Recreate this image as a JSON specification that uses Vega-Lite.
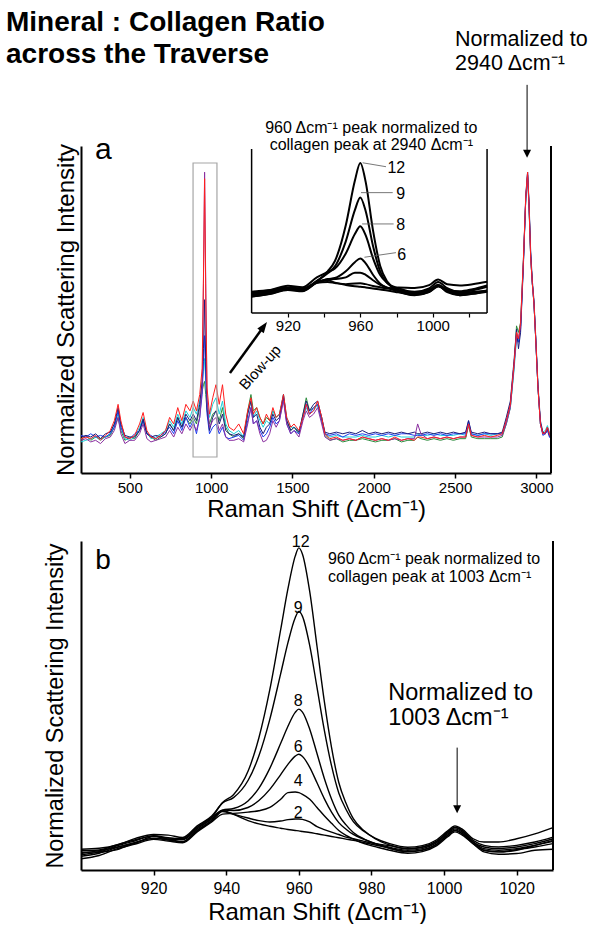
{
  "$schema": "https://vega.github.io/schema/vega-lite/v6.json",
  "padding": {"left": 6, "top": 9, "right": 0, "bottom": 0},
  "title": {"text": ["Mineral : Collagen Ratio", "across the Traverse"], "anchor": "start", "fontSize": 28, "fontWeight": "bold", "font": "Liberation Sans", "lineHeight": 32, "dx": -37, "dy": 40, "offset": 0, "color": "#000"},
  "config": {
    "font": "Liberation Sans",
    "view": {"stroke": null},
    "axis": {"grid": false, "labelColor": "#000", "titleColor": "#000", "domainColor": "#000", "tickColor": "#000", "titleFontWeight": "normal", "labelFont": "Liberation Sans", "titleFont": "Liberation Sans"},
    "text": {"color": "#000", "font": "Liberation Sans"}
  },
  "datasets": {
    "spec": [
      {"x":200,"r":10.5,"p":10,"n":11,"b":11.5,"c":9.5,"g":10},
      {"x":230,"r":11,"p":10.5,"n":11.5,"b":11,"c":10,"g":11.5},
      {"x":260,"r":10.5,"p":9.5,"n":11,"b":12,"c":10.5,"g":10},
      {"x":290,"r":11.5,"p":10,"n":12,"b":11,"c":11,"g":11},
      {"x":320,"r":10,"p":9,"n":10.5,"b":11.5,"c":10,"g":10.5},
      {"x":350,"r":11.5,"p":10.5,"n":12,"b":11,"c":11,"g":11},
      {"x":380,"r":13,"p":11,"n":12.5,"b":12,"c":12,"g":11.5},
      {"x":405,"r":16,"p":13,"n":15,"b":14,"c":15,"g":14},
      {"x":428,"r":21,"p":17,"n":20,"b":19,"c":18,"g":17},
      {"x":445,"r":16,"p":12,"n":15,"b":14,"c":14,"g":13},
      {"x":470,"r":11,"p":9,"n":11.5,"b":11,"c":10.5,"g":10},
      {"x":500,"r":10.5,"p":10,"n":11,"b":10.5,"c":10,"g":11},
      {"x":530,"r":11.5,"p":10,"n":11,"b":12,"c":11,"g":10.5},
      {"x":560,"r":15,"p":12,"n":13,"b":13,"c":14,"g":13},
      {"x":582,"r":18.5,"p":15,"n":16.5,"b":16,"c":17,"g":16},
      {"x":605,"r":13,"p":10.5,"n":12,"b":12,"c":12.5,"g":12},
      {"x":630,"r":11,"p":9.5,"n":11,"b":11.5,"c":10.5,"g":11},
      {"x":660,"r":10.5,"p":10,"n":11.5,"b":10.5,"c":11,"g":10},
      {"x":690,"r":11.5,"p":10.5,"n":11,"b":11.5,"c":12,"g":11},
      {"x":720,"r":13,"p":11,"n":12,"b":12.5,"c":13,"g":12},
      {"x":745,"r":17,"p":13,"n":15,"b":14,"c":16,"g":15},
      {"x":770,"r":15,"p":11,"n":13,"b":12,"c":14,"g":13},
      {"x":795,"r":20,"p":14,"n":17,"b":16,"c":18,"g":17},
      {"x":820,"r":16,"p":12,"n":14,"b":13,"c":15,"g":14},
      {"x":845,"r":21,"p":15,"n":18,"b":17,"c":19,"g":17},
      {"x":870,"r":19,"p":13,"n":16,"b":14,"c":17,"g":15},
      {"x":890,"r":22,"p":15,"n":18,"b":16,"c":20,"g":17},
      {"x":910,"r":19,"p":13,"n":16,"b":12,"c":18,"g":15},
      {"x":930,"r":24,"p":17,"n":21,"b":17,"c":22,"g":20},
      {"x":945,"r":32,"p":26,"n":28,"b":24,"c":28,"g":25},
      {"x":953,"r":60,"p":58,"n":38,"b":34,"c":31,"g":27},
      {"x":960,"r":90,"p":92,"n":53,"b":42,"c":35,"g":28},
      {"x":967,"r":55,"p":58,"n":34,"b":30,"c":28,"g":24},
      {"x":975,"r":26,"p":22,"n":20,"b":18,"c":22,"g":19},
      {"x":990,"r":18,"p":14,"n":13,"b":12,"c":17,"g":15},
      {"x":1010,"r":23,"p":16,"n":17,"b":14,"c":21,"g":18},
      {"x":1030,"r":27,"p":17,"n":19,"b":15,"c":23,"g":19},
      {"x":1050,"r":21,"p":13,"n":15,"b":12,"c":18,"g":16},
      {"x":1070,"r":27,"p":15,"n":18,"b":14,"c":22,"g":20},
      {"x":1090,"r":18,"p":11,"n":13,"b":11,"c":15,"g":14},
      {"x":1110,"r":14,"p":10,"n":12,"b":10.5,"c":13,"g":12},
      {"x":1140,"r":13,"p":10,"n":11.5,"b":11,"c":12,"g":11},
      {"x":1170,"r":15,"p":10.5,"n":12,"b":11.5,"c":13,"g":12},
      {"x":1200,"r":12,"p":9.5,"n":11,"b":10,"c":11,"g":10.5},
      {"x":1225,"r":19,"p":15,"n":18,"b":16,"c":18,"g":19},
      {"x":1245,"r":23,"p":20,"n":22,"b":20,"c":22,"g":24},
      {"x":1260,"r":18,"p":15,"n":17,"b":15,"c":17,"g":19},
      {"x":1280,"r":20,"p":16,"n":18,"b":16,"c":19,"g":20},
      {"x":1300,"r":17,"p":12,"n":14,"b":13,"c":16,"g":17},
      {"x":1320,"r":15,"p":9.5,"n":12,"b":11,"c":14,"g":15},
      {"x":1340,"r":18,"p":10,"n":14,"b":12,"c":16,"g":17},
      {"x":1360,"r":16,"p":12,"n":15,"b":14,"c":15,"g":16},
      {"x":1380,"r":20,"p":16,"n":18,"b":17,"c":19,"g":19},
      {"x":1400,"r":17,"p":14,"n":16,"b":15,"c":17,"g":17},
      {"x":1420,"r":18,"p":16,"n":17,"b":16,"c":18,"g":18},
      {"x":1445,"r":24,"p":22,"n":24,"b":23,"c":24,"g":23},
      {"x":1465,"r":17,"p":15,"n":16,"b":15,"c":17,"g":16},
      {"x":1490,"r":14,"p":12,"n":13,"b":12,"c":14,"g":13},
      {"x":1510,"r":15,"p":13,"n":14,"b":13,"c":14,"g":14},
      {"x":1540,"r":13,"p":11,"n":12.5,"b":12,"c":13,"g":12},
      {"x":1565,"r":17,"p":16,"n":18,"b":17,"c":17,"g":18},
      {"x":1585,"r":21,"p":19,"n":22,"b":21,"c":20,"g":23},
      {"x":1605,"r":18,"p":17,"n":19,"b":18,"c":18,"g":19},
      {"x":1630,"r":19,"p":18,"n":21,"b":20,"c":19,"g":20},
      {"x":1655,"r":22,"p":20,"n":22,"b":21,"c":21,"g":21},
      {"x":1680,"r":17,"p":15,"n":17,"b":16,"c":17,"g":16},
      {"x":1700,"r":12,"p":11,"n":12.5,"b":12,"c":12,"g":11.5},
      {"x":1730,"r":10.5,"p":10,"n":12,"b":11.5,"c":11,"g":10},
      {"x":1770,"r":11,"p":10.5,"n":12.5,"b":12,"c":11.5,"g":10.5},
      {"x":1810,"r":10,"p":10,"n":12,"b":11,"c":11,"g":9.5},
      {"x":1850,"r":10.5,"p":10.5,"n":12.5,"b":12,"c":11,"g":10},
      {"x":1890,"r":10,"p":10,"n":12,"b":11.5,"c":11,"g":10},
      {"x":1930,"r":11,"p":11,"n":13,"b":12,"c":11.5,"g":10.5},
      {"x":1970,"r":10.5,"p":10.5,"n":12,"b":11.5,"c":11,"g":10},
      {"x":2010,"r":10,"p":10,"n":12.5,"b":12,"c":11,"g":9.5},
      {"x":2050,"r":10.5,"p":10.5,"n":12,"b":11.5,"c":11.5,"g":10},
      {"x":2090,"r":10,"p":10,"n":12.5,"b":12,"c":11,"g":10},
      {"x":2130,"r":11,"p":10.5,"n":12,"b":11.5,"c":11.5,"g":10.5},
      {"x":2170,"r":10,"p":10,"n":12.5,"b":12,"c":11,"g":9.5},
      {"x":2210,"r":10.5,"p":10.5,"n":12,"b":12,"c":11,"g":10},
      {"x":2250,"r":10,"p":10.5,"n":12.5,"b":11.5,"c":11,"g":10},
      {"x":2270,"r":11,"p":15,"n":12,"b":11.5,"c":12,"g":11},
      {"x":2290,"r":11,"p":12,"n":12,"b":11.5,"c":11.5,"g":10.5},
      {"x":2330,"r":10.5,"p":10.5,"n":12.5,"b":12,"c":11.5,"g":10},
      {"x":2370,"r":11,"p":11,"n":12,"b":11.5,"c":12,"g":10.5},
      {"x":2410,"r":10.5,"p":10.5,"n":12.5,"b":12,"c":11.5,"g":10},
      {"x":2450,"r":11,"p":11,"n":12,"b":11.5,"c":11.5,"g":10.5},
      {"x":2490,"r":10.5,"p":10.5,"n":12.5,"b":12,"c":11.5,"g":10},
      {"x":2530,"r":11,"p":11,"n":12,"b":12,"c":12,"g":10.5},
      {"x":2565,"r":11,"p":11,"n":12.5,"b":12,"c":11.5,"g":10.5},
      {"x":2583,"r":15,"p":15,"n":16,"b":16,"c":15,"g":14.5},
      {"x":2600,"r":11.5,"p":11.5,"n":12.5,"b":12,"c":12,"g":11},
      {"x":2640,"r":11,"p":11,"n":12,"b":11.5,"c":11.5,"g":10.5},
      {"x":2680,"r":11.5,"p":11,"n":12.5,"b":12,"c":12,"g":10.5},
      {"x":2720,"r":11,"p":11,"n":12,"b":12,"c":11.5,"g":10.5},
      {"x":2760,"r":11.5,"p":11,"n":12,"b":12,"c":12,"g":10.5},
      {"x":2790,"r":12,"p":11.5,"n":12.5,"b":12,"c":12,"g":11},
      {"x":2815,"r":16,"p":15,"n":17,"b":16,"c":15,"g":15},
      {"x":2840,"r":21,"p":20,"n":22,"b":21,"c":20,"g":20},
      {"x":2862,"r":33,"p":32,"n":34,"b":33,"c":31,"g":32},
      {"x":2878,"r":43,"p":42,"n":44,"b":42,"c":41,"g":45},
      {"x":2890,"r":41,"p":41,"n":38,"b":40,"c":40,"g":43},
      {"x":2903,"r":46,"p":45,"n":43,"b":44,"c":45,"g":46},
      {"x":2920,"r":65,"p":64,"n":63,"b":64,"c":64,"g":65},
      {"x":2935,"r":85,"p":84,"n":84,"b":85,"c":84,"g":84},
      {"x":2946,"r":92,"p":91,"n":92,"b":92,"c":91,"g":91},
      {"x":2955,"r":82,"p":81,"n":83,"b":82,"c":82,"g":81},
      {"x":2965,"r":66,"p":66,"n":68,"b":67,"c":66,"g":66},
      {"x":2975,"r":58,"p":58,"n":59,"b":58,"c":58,"g":58},
      {"x":2985,"r":52,"p":52,"n":53,"b":52,"c":52,"g":52},
      {"x":2995,"r":42,"p":42,"n":43,"b":42,"c":42,"g":42},
      {"x":3010,"r":26,"p":26,"n":27,"b":26,"c":26,"g":26},
      {"x":3025,"r":15,"p":15,"n":16,"b":15,"c":15,"g":15},
      {"x":3040,"r":12,"p":12,"n":12.5,"b":11.5,"c":12.5,"g":12},
      {"x":3055,"r":12.5,"p":12,"n":12,"b":12,"c":13,"g":12},
      {"x":3068,"r":14,"p":14,"n":13.5,"b":13,"c":14.5,"g":14},
      {"x":3080,"r":12,"p":12,"n":11.5,"b":11,"c":12.5,"g":12},
      {"x":3090,"r":11,"p":11,"n":10.5,"b":10.5,"c":11.5,"g":11}
    ],
    "ins": [
      {"x":900,"c12":10.0,"c9":11.0,"c8":12.0,"c6":11.0,"c4":12.0,"c2":13.0,"c0":10.0},
      {"x":910,"c12":11.7,"c9":12.7,"c8":13.8,"c6":12.5,"c4":13.3,"c2":14.0,"c0":11.6},
      {"x":920,"c12":14.4,"c9":15.1,"c8":16.6,"c6":14.7,"c4":15.2,"c2":15.6,"c0":14.0},
      {"x":928,"c12":13.5,"c9":14.3,"c8":15.7,"c6":14.0,"c4":14.6,"c2":15.0,"c0":13.2},
      {"x":936,"c12":19.2,"c9":19.6,"c8":21.7,"c6":18.7,"c4":18.8,"c2":18.4,"c0":18.4},
      {"x":942,"c12":25.4,"c9":24.2,"c8":25.0,"c6":20.7,"c4":20.5,"c2":18.9,"c0":20.0},
      {"x":946,"c12":31.7,"c9":28.4,"c8":27.1,"c6":21.3,"c4":20.7,"c2":18.3,"c0":18.5},
      {"x":952,"c12":53.5,"c9":43.7,"c8":36.3,"c6":25.4,"c4":21.7,"c2":17.6,"c0":17.1},
      {"x":957,"c12":80.6,"c9":62.7,"c8":48.1,"c6":31.0,"c4":24.6,"c2":18.0,"c0":16.3},
      {"x":960,"c12":91.5,"c9":70.5,"c8":52.9,"c6":33.3,"c4":24.6,"c2":18.1,"c0":16.0},
      {"x":963,"c12":79.8,"c9":62.0,"c8":47.3,"c6":30.3,"c4":23.3,"c2":17.6,"c0":15.6},
      {"x":967,"c12":50.5,"c9":41.0,"c8":33.5,"c6":23.3,"c4":20.0,"c2":16.5,"c0":15.0},
      {"x":971,"c12":28.7,"c9":25.3,"c8":23.1,"c6":17.9,"c4":17.1,"c2":15.7,"c0":14.3},
      {"x":975,"c12":19.0,"c9":18.2,"c8":18.2,"c6":15.3,"c4":15.4,"c2":15.0,"c0":13.7},
      {"x":981,"c12":13.6,"c9":14.1,"c8":15.1,"c6":13.3,"c4":13.9,"c2":15.5,"c0":12.6},
      {"x":990,"c12":10.8,"c9":11.8,"c8":12.9,"c6":11.7,"c4":12.6,"c2":15.2,"c0":11.0},
      {"x":998,"c12":12.9,"c9":13.7,"c8":15.0,"c6":13.4,"c4":14.1,"c2":17.0,"c0":12.7},
      {"x":1003,"c12":16.6,"c9":17.2,"c8":18.9,"c6":16.5,"c4":16.8,"c2":20.5,"c0":16.1},
      {"x":1008,"c12":12.7,"c9":14.0,"c8":15.1,"c6":13.6,"c4":14.5,"c2":17.5,"c0":13.3},
      {"x":1015,"c12":10.9,"c9":13.2,"c8":12.8,"c6":11.7,"c4":12.4,"c2":16.8,"c0":10.9},
      {"x":1022,"c12":11.7,"c9":14.5,"c8":13.8,"c6":12.4,"c4":12.8,"c2":17.5,"c0":11.7},
      {"x":1030,"c12":13.6,"c9":16.8,"c8":16.0,"c6":13.7,"c4":13.4,"c2":19.0,"c0":12.9}
    ],
    "pb": [
      {"x":900,"c12":5.4,"c9":6.3,"c8":4.2,"c6":5.0,"c4":3.4,"c2":5.9,"c0":4.6},
      {"x":905,"c12":5.6,"c9":6.6,"c8":5.1,"c6":5.9,"c4":4.4,"c2":6.1,"c0":5.4},
      {"x":910,"c12":7.4,"c9":7.6,"c8":6.9,"c6":7.0,"c4":6.5,"c2":7.7,"c0":6.2},
      {"x":915,"c12":8.9,"c9":9.6,"c8":8.4,"c6":8.2,"c4":7.9,"c2":9.2,"c0":8.3},
      {"x":920,"c12":10.4,"c9":10.8,"c8":9.6,"c6":10.2,"c4":9.3,"c2":10.3,"c0":9.6},
      {"x":924,"c12":9.8,"c9":10.6,"c8":9.3,"c6":9.4,"c4":8.8,"c2":9.7,"c0":9.1},
      {"x":928,"c12":9.4,"c9":9.9,"c8":8.6,"c6":9.2,"c4":8.3,"c2":9.6,"c0":8.5},
      {"x":932,"c12":12.9,"c9":13.4,"c8":12.1,"c6":12.5,"c4":11.6,"c2":13.0,"c0":11.9},
      {"x":936,"c12":15.9,"c9":16.4,"c8":15.1,"c6":15.5,"c4":14.6,"c2":16.0,"c0":14.9},
      {"x":939,"c12":20.5,"c9":20.4,"c8":18.2,"c6":18.2,"c4":17.0,"c2":18.0,"c0":17.8},
      {"x":942,"c12":22.9,"c9":22.0,"c8":18.7,"c6":18.1,"c4":17.2,"c2":17.0,"c0":16.9},
      {"x":946,"c12":30.0,"c9":27.2,"c8":21.0,"c6":19.0,"c4":17.6,"c2":15.8,"c0":15.0},
      {"x":949,"c12":40.2,"c9":34.7,"c8":24.9,"c6":21.1,"c4":18.0,"c2":15.0,"c0":14.0},
      {"x":952,"c12":54.8,"c9":45.8,"c8":30.9,"c6":24.5,"c4":19.0,"c2":14.6,"c0":13.3},
      {"x":955,"c12":73.1,"c9":59.7,"c8":38.5,"c6":29.0,"c4":21.5,"c2":14.9,"c0":12.7},
      {"x":957,"c12":85.5,"c9":69.1,"c8":43.7,"c6":32.1,"c4":23.5,"c2":15.3,"c0":12.3},
      {"x":959,"c12":95.4,"c9":76.7,"c8":47.9,"c6":34.6,"c4":23.7,"c2":15.5,"c0":12.0},
      {"x":960,"c12":97.9,"c9":78.6,"c8":48.9,"c6":35.2,"c4":23.5,"c2":15.5,"c0":11.9},
      {"x":961,"c12":96.0,"c9":77.1,"c8":48.0,"c6":34.5,"c4":23.0,"c2":15.4,"c0":11.7},
      {"x":963,"c12":84.6,"c9":68.2,"c8":42.8,"c6":31.2,"c4":21.5,"c2":14.6,"c0":11.4},
      {"x":965,"c12":68.0,"c9":55.5,"c8":35.4,"c6":26.5,"c4":19.0,"c2":13.2,"c0":11.0},
      {"x":967,"c12":51.4,"c9":42.6,"c8":27.9,"c6":21.7,"c4":16.5,"c2":12.3,"c0":10.6},
      {"x":969,"c12":37.3,"c9":31.7,"c8":21.6,"c6":17.6,"c4":14.2,"c2":11.5,"c0":10.2},
      {"x":971,"c12":26.6,"c9":23.4,"c8":16.7,"c6":14.4,"c4":12.0,"c2":10.8,"c0":9.8},
      {"x":973,"c12":20.3,"c9":18.4,"c8":13.7,"c6":12.4,"c4":10.5,"c2":10.0,"c0":9.4},
      {"x":975,"c12":15.6,"c9":14.7,"c8":11.4,"c6":10.8,"c4":9.4,"c2":9.5,"c0":9.0},
      {"x":978,"c12":11.9,"c9":11.7,"c8":9.4,"c6":9.3,"c4":8.0,"c2":8.7,"c0":8.3},
      {"x":981,"c12":9.5,"c9":9.7,"c8":8.0,"c6":8.1,"c4":7.1,"c2":8.0,"c0":7.6},
      {"x":985,"c12":7.6,"c9":8.0,"c8":6.6,"c6":6.9,"c4":6.0,"c2":7.4,"c0":6.6},
      {"x":990,"c12":6.4,"c9":6.9,"c8":5.6,"c6":6.0,"c4":5.1,"c2":6.5,"c0":5.6},
      {"x":994,"c12":6.9,"c9":7.4,"c8":6.1,"c6":6.5,"c4":5.6,"c2":7.0,"c0":6.0},
      {"x":998,"c12":8.7,"c9":9.2,"c8":7.9,"c6":8.3,"c4":7.4,"c2":8.8,"c0":7.8},
      {"x":1001,"c12":11.4,"c9":11.9,"c8":10.6,"c6":11.0,"c4":10.1,"c2":11.5,"c0":10.5},
      {"x":1003,"c12":12.9,"c9":13.4,"c8":12.1,"c6":12.5,"c4":11.6,"c2":13.0,"c0":12.0},
      {"x":1005,"c12":11.9,"c9":12.4,"c8":11.1,"c6":11.5,"c4":10.6,"c2":12.0,"c0":11.0},
      {"x":1008,"c12":8.5,"c9":9.5,"c8":8.0,"c6":8.5,"c4":8.0,"c2":9.0,"c0":8.5},
      {"x":1011,"c12":7.0,"c9":8.5,"c8":6.0,"c6":6.5,"c4":5.5,"c2":7.5,"c0":6.0},
      {"x":1015,"c12":6.5,"c9":8.5,"c8":5.5,"c6":6.0,"c4":4.8,"c2":7.0,"c0":5.5},
      {"x":1020,"c12":7.0,"c9":9.5,"c8":6.0,"c6":6.5,"c4":5.0,"c2":7.5,"c0":6.2},
      {"x":1025,"c12":8.0,"c9":11.0,"c8":7.5,"c6":7.5,"c4":6.0,"c2":8.5,"c0":7.0},
      {"x":1030,"c12":9.5,"c9":12.9,"c8":9.0,"c6":8.7,"c4":6.3,"c2":10.0,"c0":8.0}
    ]
  },
  "concat": [
    {
      "width": 470,
      "height": 327,
      "layer": [
        {
          "encoding": {
            "x": {"field": "x", "type": "quantitative", "scale": {"domain": [200, 3090], "nice": false, "zero": false},
                  "axis": {"title": "Raman Shift (Δcm⁻¹)", "format": "d", "values": [500, 1000, 1500, 2000, 2500, 3000], "domainWidth": 2, "tickWidth": 1.5, "tickSize": 5, "labelFontSize": 15, "labelPadding": 2, "titleFontSize": 24, "titlePadding": 2}},
            "y": {"field": "v", "type": "quantitative", "scale": {"domain": [0, 100], "nice": false, "zero": false},
                  "axis": {"title": "Normalized Scattering Intensity", "ticks": false, "labels": false, "domainWidth": 2, "titleFontSize": 24, "titlePadding": 3, "minExtent": 0}}
          },
          "layer": [
            {"data": {"name": "spec"}, "transform": [{"fold": ["g", "c", "b", "n", "p", "r"], "as": ["s", "v"]}],
             "mark": {"type": "line", "strokeWidth": 1},
             "encoding": {"color": {"field": "s", "type": "nominal", "scale": {"domain": ["g", "c", "b", "n", "p", "r"], "range": ["#2a8c3c", "#1fd0d8", "#1f3df0", "#1c1c7a", "#8b2fa0", "#ff1f1f"]}, "legend": null}}},
            {"data": {"values": [{"x": 889, "x2": 1036, "v": 4.9, "v2": 94.8}]},
             "mark": {"type": "rect", "fill": "#ffffff", "fillOpacity": 0, "stroke": "#a6a6a6", "strokeWidth": 1.2},
             "encoding": {"x2": {"field": "x2"}, "y2": {"field": "v2"}}},
            {"data": {"values": [{"x": 3090, "v": 0, "v2": 100}]},
             "mark": {"type": "rule", "strokeWidth": 2, "color": "#000"},
             "encoding": {"y2": {"field": "v2"}}},
            {"data": {"values": [{"x": 2943, "v": 118.7, "v2": 97.5}]},
             "mark": {"type": "rule", "strokeWidth": 1, "color": "#000"},
             "encoding": {"y2": {"field": "v2"}}},
            {"data": {"values": [{"x": 2943, "v": 97.6}]},
             "mark": {"type": "point", "shape": "M-1,-1L1,-1L0,1Z", "size": 64, "filled": true, "color": "#000", "opacity": 1, "strokeWidth": 0}},
            {"data": {"values": [{"x": 1116, "v": 30.6, "x2": 1322, "v2": 44.7}]},
             "mark": {"type": "rule", "strokeWidth": 2.5, "color": "#000"},
             "encoding": {"x2": {"field": "x2"}, "y2": {"field": "v2"}}},
            {"data": {"values": [{"x": 1322, "v": 44.7}]},
             "mark": {"type": "point", "shape": "M-0.8,1L0.8,1L0,-1.2Z", "size": 100, "angle": 36, "filled": true, "color": "#000", "opacity": 1, "strokeWidth": 0}},
            {"data": {"values": [{"x": 1301, "v": 32.3, "t": "Blow-up"}]},
             "mark": {"type": "text", "fontSize": 15, "angle": 312, "align": "center", "baseline": "middle"},
             "encoding": {"text": {"field": "t"}}},
            {"data": {"values": [{"x": 286, "v": 98.8, "t": "a"}]},
             "mark": {"type": "text", "fontSize": 30, "align": "left", "baseline": "middle"},
             "encoding": {"text": {"field": "t"}}},
            {"data": {"values": [{"x": 2500, "v": 132.4, "t": "Normalized to"}, {"x": 2500, "v": 125.1, "t": "2940 Δcm⁻¹"}]},
             "mark": {"type": "text", "fontSize": 21.5, "align": "left", "baseline": "middle"},
             "encoding": {"text": {"field": "t"}}}
          ]
        },
        {
          "encoding": {
            "x": {"field": "x", "type": "quantitative", "scale": {"domain": [805.8, 1065.3], "nice": false, "zero": false},
                  "axis": {"orient": "bottom", "offset": -160, "domain": false, "title": null, "format": "d", "values": [920, 940, 960, 980, 1000, 1020], "labelExpr": "datum.value % 40 == 0 ? datum.label : ''", "tickSize": 4, "tickWidth": 1.2, "labelFontSize": 15, "labelPadding": 1}},
            "y": {"field": "v", "type": "quantitative", "scale": {"domain": [-97.56, 101.83], "nice": false, "zero": false}, "axis": null}
          },
          "layer": [
            {"data": {"name": "ins"}, "transform": [{"fold": ["c0", "c2", "c4", "c6", "c8", "c9", "c12"], "as": ["curve", "v"]}],
             "mark": {"type": "line", "color": "#000", "strokeWidth": 2, "interpolate": "monotone"},
             "encoding": {"detail": {"field": "curve"}}},
            {"data": {"values": [{"x": 900, "x2": 900, "v": 0, "v2": 100}, {"x": 1030, "x2": 1030, "v": 0, "v2": 100}, {"x": 900, "x2": 1030, "v": 0, "v2": 0}]},
             "mark": {"type": "rule", "strokeWidth": 1.5, "color": "#000"},
             "encoding": {"x2": {"field": "x2"}, "y2": {"field": "v2"}}},
            {"data": {"values": [{"x": 961.3, "v": 91.6, "x2": 974.2, "v2": 89.2}, {"x": 960.4, "v": 73.4, "x2": 977.9, "v2": 73.4}, {"x": 961.0, "v": 54.3, "x2": 978.4, "v2": 54.3}, {"x": 962.3, "v": 34.0, "x2": 979.7, "v2": 36.8}]},
             "mark": {"type": "rule", "strokeWidth": 0.8, "color": "#555"},
             "encoding": {"x2": {"field": "x2"}, "y2": {"field": "v2"}}},
            {"data": {"values": [{"x": 975.0, "v": 88.2, "t": "12"}, {"x": 979.9, "v": 72.6, "t": "9"}, {"x": 979.9, "v": 53.7, "t": "8"}, {"x": 980.4, "v": 35.4, "t": "6"}]},
             "mark": {"type": "text", "fontSize": 16, "align": "left", "baseline": "middle"},
             "encoding": {"text": {"field": "t"}}},
            {"data": {"values": [{"x": 966.1, "v": 112.8, "t": "960 Δcm⁻¹ peak normalized to"}, {"x": 966.1, "v": 102.4, "t": "collagen peak at 2940 Δcm⁻¹"}]},
             "mark": {"type": "text", "fontSize": 16, "align": "center", "baseline": "middle"},
             "encoding": {"text": {"field": "t"}}}
          ]
        }
      ],
      "resolve": {"scale": {"x": "independent", "y": "independent"}, "axis": {"x": "independent", "y": "independent"}}
    },
    {
      "width": 472,
      "height": 329,
      "encoding": {
        "x": {"field": "x", "type": "quantitative", "scale": {"domain": [900, 1030], "nice": false, "zero": false},
              "axis": {"title": "Raman Shift (Δcm⁻¹)", "format": "d", "values": [920, 940, 960, 980, 1000, 1020], "domainWidth": 2, "tickWidth": 1.5, "tickSize": 5, "labelFontSize": 16, "labelPadding": 5, "titleFontSize": 24, "titlePadding": 4}},
        "y": {"field": "v", "type": "quantitative", "scale": {"domain": [0, 100], "nice": false, "zero": false},
              "axis": {"title": "Normalized Scattering Intensity", "ticks": false, "labels": false, "domainWidth": 2, "titleFontSize": 23.5, "titlePadding": 14, "minExtent": 0}}
      },
      "layer": [
        {"data": {"name": "pb"}, "transform": [{"fold": ["c0", "c2", "c4", "c6", "c8", "c9", "c12"], "as": ["curve", "v"]}],
         "mark": {"type": "line", "color": "#000", "strokeWidth": 1.4, "interpolate": "monotone"},
         "encoding": {"detail": {"field": "curve"}}},
        {"data": {"values": [{"x": 1030, "v": 0, "v2": 100}]},
         "mark": {"type": "rule", "strokeWidth": 2, "color": "#000"},
         "encoding": {"y2": {"field": "v2"}}},
        {"data": {"values": [{"x": 960.5, "v": 99.8, "t": "12"}, {"x": 959.8, "v": 79.7, "t": "9"}, {"x": 959.8, "v": 51.4, "t": "8"}, {"x": 959.8, "v": 37.4, "t": "6"}, {"x": 959.8, "v": 27.1, "t": "4"}, {"x": 959.8, "v": 17.2, "t": "2"}]},
         "mark": {"type": "text", "fontSize": 16, "align": "center", "baseline": "middle"},
         "encoding": {"text": {"field": "t"}}},
        {"data": {"values": [{"x": 968.0, "v": 94.4, "t": "960 Δcm⁻¹ peak normalized to"}, {"x": 968.0, "v": 89.1, "t": "collagen peak at 1003 Δcm⁻¹"}]},
         "mark": {"type": "text", "fontSize": 16, "align": "left", "baseline": "middle"},
         "encoding": {"text": {"field": "t"}}},
        {"data": {"values": [{"x": 984.6, "v": 53.9, "t": "Normalized to"}, {"x": 984.6, "v": 46.3, "t": "1003 Δcm⁻¹"}]},
         "mark": {"type": "text", "fontSize": 23.5, "align": "left", "baseline": "middle"},
         "encoding": {"text": {"field": "t"}}},
        {"data": {"values": [{"x": 1003.6, "v": 37.2, "v2": 19.5}]},
         "mark": {"type": "rule", "strokeWidth": 1, "color": "#000"},
         "encoding": {"y2": {"field": "v2"}}},
        {"data": {"values": [{"x": 1003.6, "v": 18.5}]},
         "mark": {"type": "point", "shape": "M-1,-1L1,-1L0,1Z", "size": 64, "filled": true, "color": "#000", "opacity": 1, "strokeWidth": 0}},
        {"data": {"values": [{"x": 903.9, "v": 93.9, "t": "b"}]},
         "mark": {"type": "text", "fontSize": 28, "align": "left", "baseline": "middle"},
         "encoding": {"text": {"field": "t"}}}
      ]
    }
  ],
  "columns": 1,
  "align": "none",
  "spacing": 12
}
